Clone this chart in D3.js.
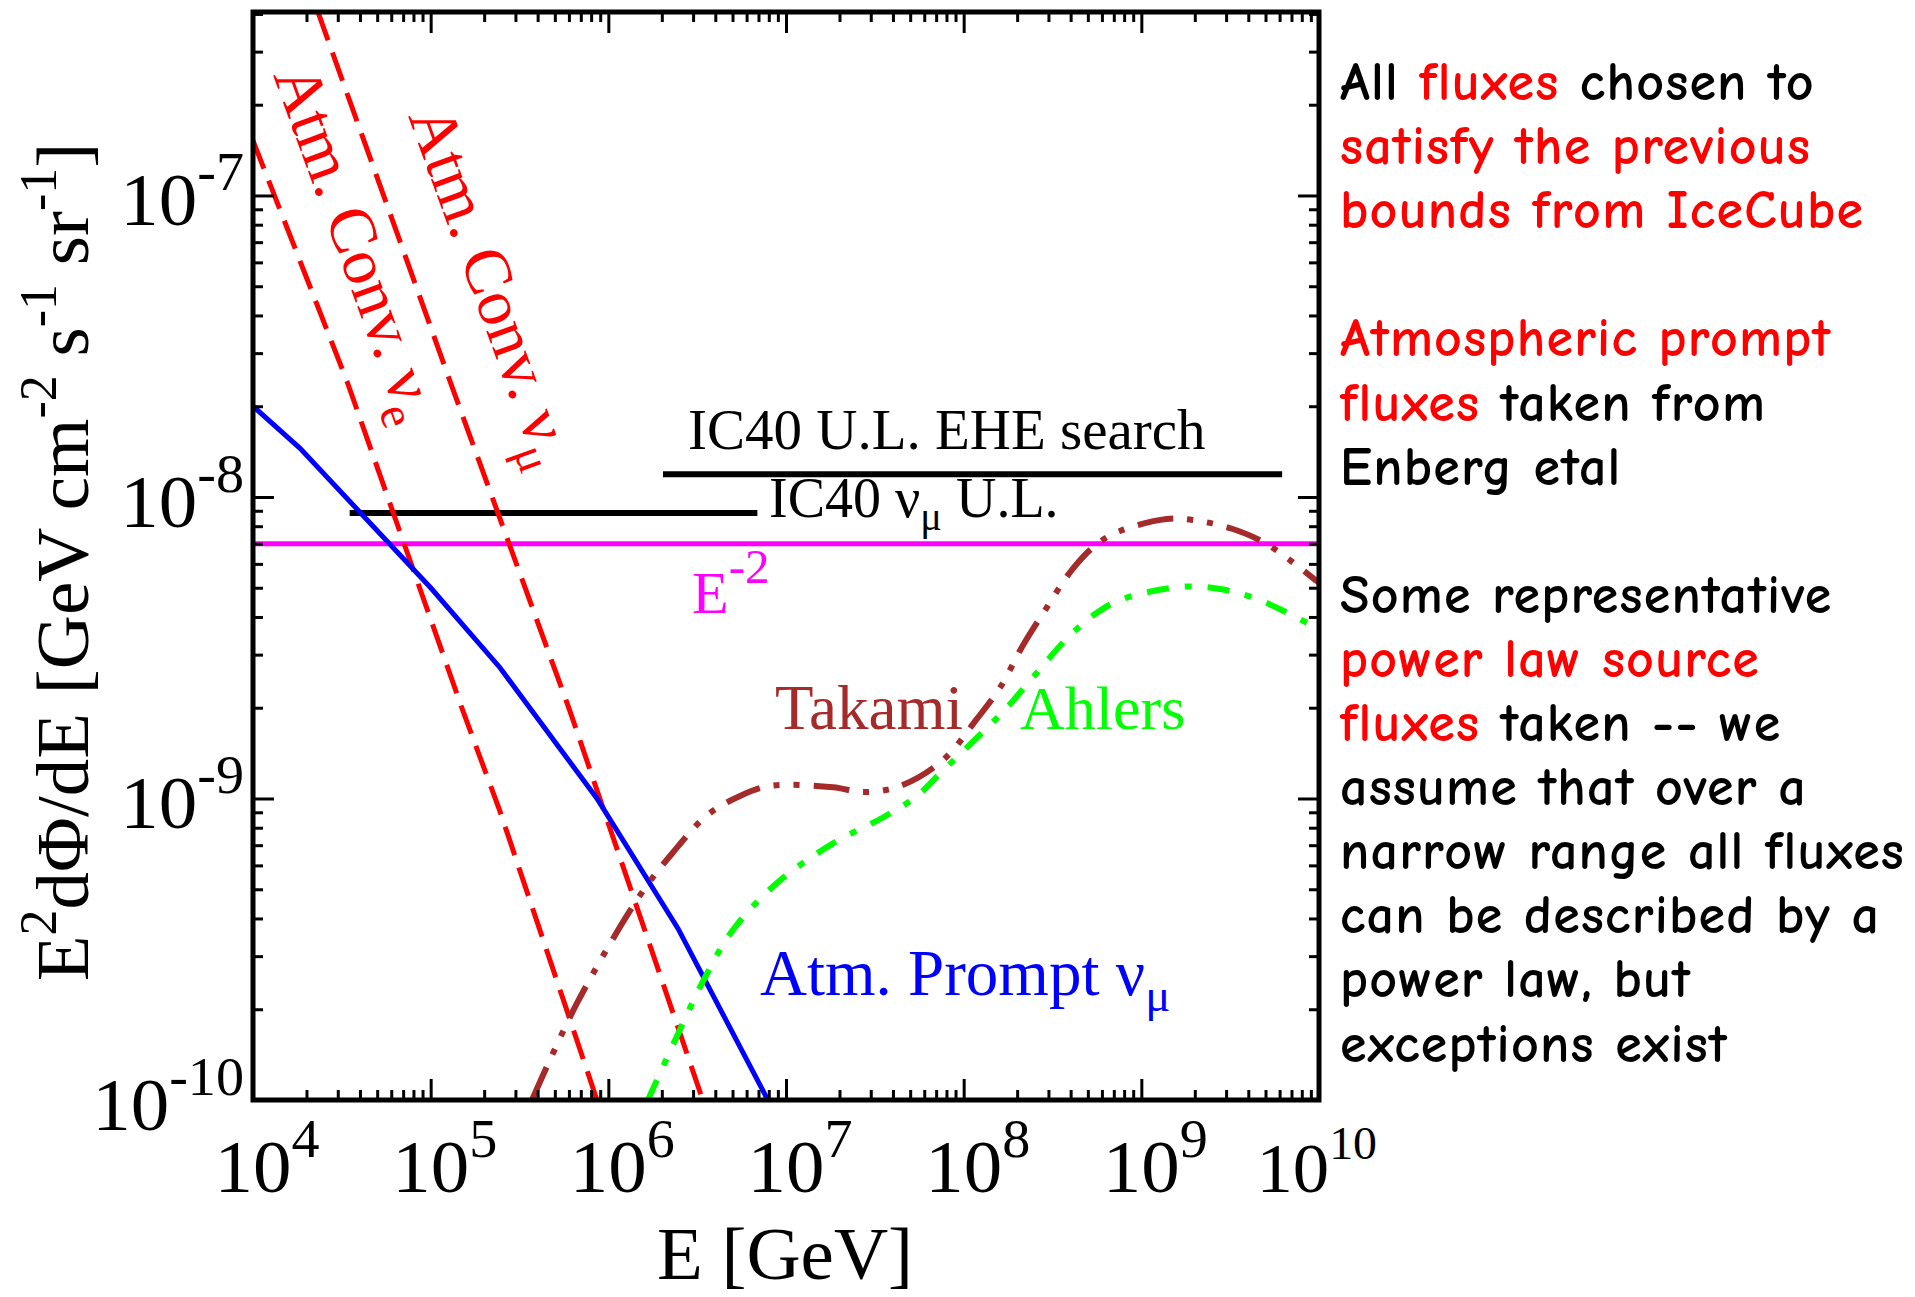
<!DOCTYPE html>
<html><head><meta charset="utf-8">
<script src="https://cdn.jsdelivr.net/npm/d3@7"></script>
<style>body{margin:0;background:#fff;} svg{display:block;}</style>
</head><body>
<svg id="c" width="1915" height="1297"></svg>
<script>
// ---------- data ----------
const xDomain = [1e4, 1e10];
const yDomain = [1e-10, 4.06e-7];
const xMajorTicks = [1e4, 1e5, 1e6, 1e7, 1e8, 1e9, 1e10];
const xTickExponents = ["4", "5", "6", "7", "8", "9", "10"];
const yMajorTicks = [1e-10, 1e-9, 1e-8, 1e-7];
const yTickExponents = ["-10", "-9", "-8", "-7"];

// [E (GeV), E^2 dPhi/dE]
const atmConvNuE = [[1e4, 1.52e-7], [3.38e4, 2.42e-8], [1.52e5, 1.95e-9], [2.45e5, 9.1e-10], [8.63e5, 1.0e-10]];
const atmConvNuMu = [[2.32e4, 4.06e-7], [1.285e5, 2.42e-8], [6.08e5, 1.95e-9], [3.40e6, 1.0e-10]];
const atmPromptNuMu = [[1e4, 2.0e-8], [1.84e4, 1.45e-8], [1e5, 5.0e-9], [2.45e5, 2.72e-9], [8.63e5, 1.0e-9], [2.47e6, 3.7e-10], [7.9e6, 1.0e-10]];
const takami = [[3.72e5, 1.0e-10], [6.65e5, 2.09e-10], [1.51e6, 4.78e-10], [2.31e6, 6.62e-10], [3.59e6, 8.79e-10], [5.51e6, 1.02e-9],
  [8.11e6, 1.10e-9], [1.84e7, 1.09e-9], [2.71e7, 1.05e-9], [4.38e7, 1.10e-9], [7.64e7, 1.34e-9], [1.19e8, 1.84e-9], [1.60e8, 2.33e-9],
  [2.15e8, 3.21e-9], [2.79e8, 4.10e-9], [4.11e8, 5.78e-9], [5.62e8, 6.98e-9], [7.57e8, 7.71e-9], [1.39e9, 8.45e-9], [1.95e9, 8.39e-9],
  [3.27e9, 7.83e-9], [5.08e9, 6.98e-9], [9.70e9, 5.27e-9], [1e10, 5.2e-9]];
const ahlers = [[1.67e6, 1.0e-10], [2.53e6, 1.71e-10], [3.50e6, 2.55e-10], [5.02e6, 3.66e-10], [8.89e6, 5.24e-10], [1.84e7, 7.10e-10],
  [3.51e7, 8.65e-10], [5.46e7, 1.02e-9], [7.35e7, 1.21e-9], [1.28e8, 1.66e-9], [1.75e8, 2.00e-9], [2.45e8, 2.52e-9], [3.96e8, 3.47e-9],
  [5.62e8, 4.13e-9], [7.87e8, 4.59e-9], [1.71e9, 5.04e-9], [2.77e9, 4.95e-9], [4.47e9, 4.59e-9], [9.23e9, 3.74e-9], [1e10, 3.65e-9]];
const eMinus2 = [[1e4, 7.0e-9], [1e10, 7.0e-9]];
const ic40NuMuUL = [[3.5e4, 8.85e-9], [6.9e6, 8.85e-9]];
const ic40EheUL = [[2.03e6, 1.19e-8], [6.2e9, 1.19e-8]];

const rightNotes = [
  [0, [["All ", "#000"], ["fluxes", "#f00"], [" chosen to", "#000"]]],
  [1, [["satisfy the previous", "#f00"]]],
  [2, [["bounds from IceCube", "#f00"]]],
  [4, [["Atmospheric prompt", "#f00"]]],
  [5, [["fluxes", "#f00"], [" taken from", "#000"]]],
  [6, [["Enberg etal", "#000"]]],
  [8, [["Some representative", "#000"]]],
  [9, [["power law source", "#f00"]]],
  [10, [["fluxes", "#f00"], [" taken -- we", "#000"]]],
  [11, [["assume that over a", "#000"]]],
  [12, [["narrow range all fluxes", "#000"]]],
  [13, [["can be described by a", "#000"]]],
  [14, [["power law, but", "#000"]]],
  [15, [["exceptions exist", "#000"]]]
];

// ---------- layout ----------
const L = 253, R = 1319, T = 12, B = 1100;
const serif = '"Liberation Serif", "Times New Roman", serif';
const comic = '"Comic Sans MS", "Comic Neue", Lato, sans-serif';

const svg = d3.select("#c");
const x = d3.scaleLog().domain(xDomain).range([L, R]);
const y = d3.scaleLog().domain(yDomain).range([B, T]);

svg.append("defs").append("clipPath").attr("id", "plot")
  .append("rect").attr("x", L).attr("y", T).attr("width", R - L).attr("height", B - T);

const g = svg.append("g").attr("clip-path", "url(#plot)");
const line = d3.line().x(d => x(d[0])).y(d => y(d[1]));
const smooth = d3.line().x(d => x(d[0])).y(d => y(d[1])).curve(d3.curveCatmullRom.alpha(0.5));

function draw(data, gen, color, width, dash) {
  g.append("path").datum(data).attr("d", gen).attr("fill", "none")
    .attr("stroke", color).attr("stroke-width", width)
    .attr("stroke-dasharray", dash || null);
}
draw(eMinus2, line, "#ff00ff", 5);
draw(ic40NuMuUL, line, "#000", 6);
draw(ic40EheUL, line, "#000", 6);
draw(atmConvNuE, line, "#ff0000", 5, "30,13");
draw(atmConvNuMu, line, "#ff0000", 5, "30,13");
draw(atmPromptNuMu, line, "#0000ff", 5);
draw(takami, smooth, "#a52a2a", 6, "36,14,6,14,6,14");
draw(ahlers, smooth, "#00ff00", 6, "22,16,7,16");

// ---------- axes (ticks inward) ----------
function minors(domain) {
  const out = [];
  const a = Math.round(Math.log10(domain[0])), b = Math.ceil(Math.log10(domain[1]));
  for (let e = a; e <= b; e++) for (let k = 2; k <= 9; k++) {
    const v = k * Math.pow(10, e);
    if (v > domain[0] && v < domain[1] * 1.0001) out.push(v);
  }
  return out;
}
const xMinor = minors(xDomain), yMinor = minors(yDomain);

function axisGroup(axis, tx, ty) {
  const a = svg.append("g").attr("transform", `translate(${tx},${ty})`).call(axis);
  a.select(".domain").remove();
  a.selectAll(".tick line").attr("stroke", "#000").attr("stroke-width", 3);
  a.selectAll(".tick text").remove();
}
[[21, xMajorTicks], [10, xMinor]].forEach(([s, v]) => {
  axisGroup(d3.axisBottom(x).tickValues(v).tickSize(-s).tickSizeOuter(0).tickFormat(""), 0, B);
  axisGroup(d3.axisTop(x).tickValues(v).tickSize(-s).tickSizeOuter(0).tickFormat(""), 0, T);
});
[[21, yMajorTicks], [10, yMinor]].forEach(([s, v]) => {
  axisGroup(d3.axisLeft(y).tickValues(v).tickSize(-s).tickSizeOuter(0).tickFormat(""), L, 0);
  axisGroup(d3.axisRight(y).tickValues(v).tickSize(-s).tickSizeOuter(0).tickFormat(""), R, 0);
});

svg.append("rect").attr("x", L).attr("y", T).attr("width", R - L).attr("height", B - T)
  .attr("fill", "none").attr("stroke", "#000").attr("stroke-width", 5);

// ---------- tick labels ----------
const tickFs = 74, supFs = 54, stretch = 1.04;
xMajorTicks.forEach((v, i) => {
  const last = i === xMajorTicks.length - 1;
  const gg = svg.append("g").attr("transform", `translate(${x(v)},1192) scale(${stretch},1)`);
  const t = gg.append("text").attr("font-family", serif).attr("font-size", last ? 70 : tickFs).attr("text-anchor", "start");
  const base = t.append("tspan").text("10");
  t.append("tspan").attr("font-size", last ? 46 : supFs).attr("dy", last ? -33 : -35).text(xTickExponents[i]);
  const bw = base.node().getComputedTextLength();
  const tw = t.node().getComputedTextLength();
  t.attr("x", last ? 58 / stretch - tw : -bw / 2);
});
yMajorTicks.forEach((v, i) => {
  const gg = svg.append("g").attr("transform", `translate(244,${y(v) + 30}) scale(${stretch},1)`);
  const t = gg.append("text").attr("font-family", serif).attr("font-size", tickFs).attr("text-anchor", "end");
  t.append("tspan").text("10");
  t.append("tspan").attr("font-size", supFs).attr("dy", -35).text(yTickExponents[i]);
});

// ---------- axis titles ----------
svg.append("text").attr("font-family", serif).attr("font-size", 75)
  .attr("x", 785).attr("y", 1279).attr("text-anchor", "middle").text("E [GeV]");

const yt = svg.append("text").attr("font-family", serif).attr("font-size", 75)
  .attr("text-anchor", "middle").attr("transform", "translate(88,562) rotate(-90)");
[["E", 0], ["2", 1], ["d\u03A6/dE [GeV cm", 0], ["-2", 1], [" s", 0], ["-1", 1], [" sr", 0], ["-1", 1], ["]", 0]]
  .forEach(([s, sup], i) => {
    const ts = yt.append("tspan").text(s);
    if (sup) ts.attr("font-size", 52).attr("dy", -32);
    else if (i > 0) ts.attr("dy", 32);
  });

// ---------- in-plot labels ----------
function label(parts, px, py, color, fs, rot, supScale) {
  const t = svg.append("text").attr("font-family", serif).attr("font-size", fs).attr("fill", color);
  if (rot) t.attr("transform", `translate(${px},${py}) rotate(${rot})`);
  else t.attr("x", px).attr("y", py);
  let shift = 0;
  parts.forEach(([s, mode]) => {
    const ts = t.append("tspan").text(s);
    let target = mode === "sub" ? fs * 0.24 : mode === "sup" ? -fs * 0.5 : 0;
    if (mode) ts.attr("font-size", fs * (supScale || 0.72));
    if (target !== shift) { ts.attr("dy", target - shift); shift = target; }
  });
}
label([["IC40 U.L. EHE search"]], 688, 449, "#000", 57);
label([["IC40 \u03BD"], ["\u03BC", "sub"], [" U.L."]], 769, 517, "#000", 56);
label([["E"], ["-2", "sup"]], 692, 613, "#ff00ff", 60, 0, 0.82);
label([["Takami"]], 775, 729, "#a52a2a", 63);
label([["Ahlers"]], 1020, 729, "#00ff00", 62);
label([["Atm. Prompt \u03BD"], ["\u03BC", "sub"]], 760, 995, "#0000ff", 65);
label([["Atm. Conv. \u03BD"], ["e", "sub"]], 273, 75, "#ff0000", 66, 70);
label([["Atm. Conv. \u03BD"], ["\u03BC", "sub"]], 408, 116, "#ff0000", 66, 70);

// ---------- right-side notes ----------
rightNotes.forEach(([row, parts]) => {
  const t = svg.append("text").attr("font-family", comic).attr("font-size", 54)
    .attr("font-weight", "bold").attr("letter-spacing", 1.2)
    .attr("x", 1340).attr("y", 100 + row * 64.1);
  parts.forEach(([s, c]) => t.append("tspan").attr("fill", c).text(s));
});
</script>
</body></html>
